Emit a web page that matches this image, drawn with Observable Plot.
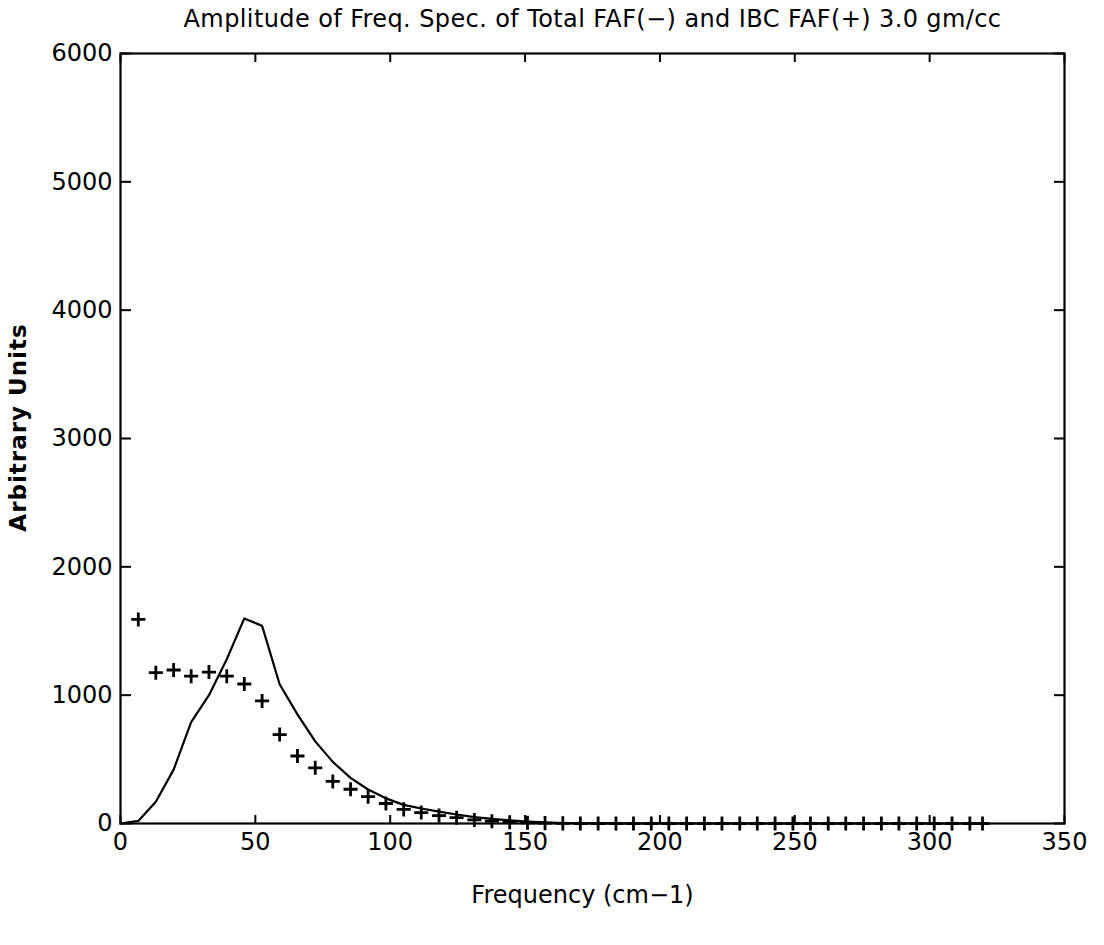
<!DOCTYPE html>
<html>
<head>
<meta charset="utf-8">
<script src="https://cdn.jsdelivr.net/npm/d3@7"></script>
<script src="https://cdn.jsdelivr.net/npm/@observablehq/plot@0.6"></script>
<style>
  html, body { margin: 0; padding: 0; background: #fff; }
  .ls-title { letter-spacing: 0.4px; }
  .ls-ylabel { letter-spacing: 1px; }
</style>
</head>
<body>
<div id="chart"></div>
<script>
const titleText = "Amplitude of Freq. Spec. of Total FAF(−) and IBC FAF(+) 3.0 gm/cc";
const xLabel = "Frequency (cm−1)";
const yLabel = "Arbitrary Units";
const xTicks = [0, 50, 100, 150, 200, 250, 300, 350];
const yTicks = [0, 1000, 2000, 3000, 4000, 5000, 6000];

// Total FAF (solid line)
const totalFreq = [0, 6.6, 13.1, 19.7, 26.2, 32.8, 39.4, 45.9, 52.5, 59.0, 65.6, 72.2, 78.7, 85.3, 91.8, 98.4,
  105.0, 111.5, 118.1, 124.6, 131.2, 137.7, 144.3, 150.9, 157.4, 164.0, 170.5, 177.1, 183.7, 190.2, 196.8,
  203.3, 209.9, 216.5, 223.0, 229.6, 236.1, 242.7, 249.3, 255.8, 262.4, 268.9, 275.5, 282.1, 288.6, 295.2,
  301.7, 308.3, 314.9, 320.0];
const totalAmp = [0, 20, 170, 420, 790, 1000, 1280, 1598, 1540, 1085, 850, 640, 480, 355, 265, 196,
  145, 117, 92, 70, 50, 36, 25, 15, 8, 4,
  2, 1, 1, 0, 0, 0, 0, 0, 0, 0, 0, 0, 0, 0, 0, 0, 0, 0, 0, 0, 0, 0, 0, 0];

// IBC FAF (+ markers)
const ibcFreq = [6.6, 13.1, 19.7, 26.2, 32.8, 39.4, 45.9, 52.5, 59.0, 65.6, 72.2, 78.7, 85.3, 91.8, 98.4,
  105.0, 111.5, 118.1, 124.6, 131.2, 137.7, 144.3, 150.9, 157.4, 164.0, 170.5, 177.1, 183.7, 190.2, 196.8,
  203.3, 209.9, 216.5, 223.0, 229.6, 236.1, 242.7, 249.3, 255.8, 262.4, 268.9, 275.5, 282.1, 288.6, 295.2,
  301.7, 308.3, 314.9, 319.6];
const ibcAmp = [1590, 1175, 1196, 1148, 1180, 1148, 1087, 955, 693, 526, 434, 328, 267, 209, 156,
  110, 85, 62, 45, 28, 18, 10, 6, 3, 1,
  0, 0, 0, 0, 0, 0, 0, 0, 0, 0, 0, 0, 0, 0, 0, 0, 0, 0, 0, 0, 0, 0, 0, 0];

const total = totalFreq.map((f, i) => ({f, a: totalAmp[i]}));
const ibc = ibcFreq.map((f, i) => ({f, a: ibcAmp[i]}));

const font = "DejaVu Sans";

const chart = Plot.plot({
  width: 1104,
  height: 945,
  marginLeft: 120,
  marginRight: 40,
  marginTop: 53,
  marginBottom: 122,
  x: {domain: [0, 350]},
  y: {domain: [0, 6000]},
  style: {fontFamily: font, fontSize: "24px", color: "black", background: "white", overflow: "visible"},
  marks: [
    Plot.line(total, {x: "f", y: "a", stroke: "black", strokeWidth: 2.2}),
    Plot.dot(ibc, {x: "f", y: "a", symbol: "plus", r: 4.6, stroke: "black", strokeWidth: 2.8}),
    Plot.axisY({ticks: yTicks, tickSize: 0, tickPadding: 8, tickFormat: d => String(d), label: null, fontSize: 24}),
    Plot.axisY({ticks: yTicks, tickSize: -11, text: null, label: null, strokeWidth: 2}),
    Plot.axisY({anchor: "right", ticks: yTicks, tickSize: -11, text: null, label: null, strokeWidth: 2}),
    Plot.axisX({ticks: xTicks, tickSize: 0, tickPadding: 9, tickFormat: d => String(d), label: null, fontSize: 24}),
    Plot.axisX({ticks: xTicks, tickSize: -8, text: null, label: null, strokeWidth: 2}),
    Plot.axisX({anchor: "top", ticks: xTicks, tickSize: -8, text: null, label: null, strokeWidth: 2}),
    Plot.frame({stroke: "black", strokeWidth: 2.2}),
    Plot.text([titleText], {frameAnchor: "top", lineAnchor: "middle", dy: -34, dx: 0, fontSize: 24, fill: "black", className: "ls-title"}),
    Plot.text([xLabel], {frameAnchor: "bottom", lineAnchor: "middle", dy: 72, dx: -10, fontSize: 24, fill: "black"}),
    Plot.text([yLabel], {frameAnchor: "left", textAnchor: "middle", lineAnchor: "middle", dx: -102, dy: -11, rotate: -90, fontSize: 23, fontWeight: "bold", fill: "black", className: "ls-ylabel"})
  ]
});
document.getElementById("chart").appendChild(chart);
</script>
</body>
</html>
